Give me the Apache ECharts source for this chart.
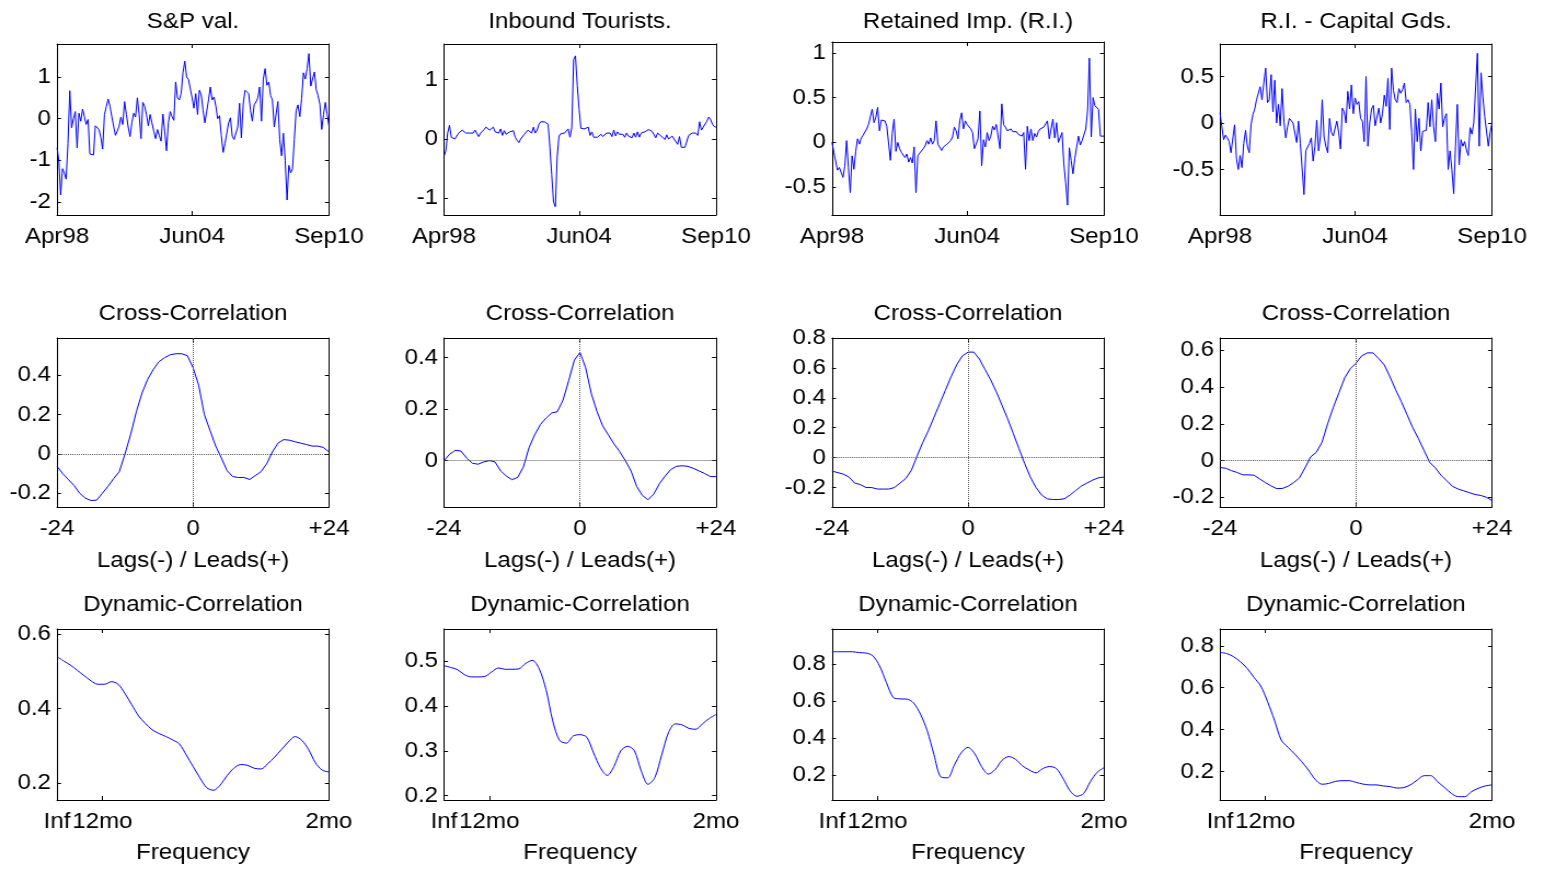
<!DOCTYPE html>
<html>
<head>
<meta charset="utf-8">
<title>Business cycle panels</title>
<script src="https://cdn.jsdelivr.net/npm/echarts@6/dist/echarts.min.js"></script>
<style>
  html, body { margin: 0; padding: 0; background: #fff; overflow: hidden; }
  /* the reference picture is stretched sideways, so the chart is drawn narrower and widened */
  #main { width: 1409px; height: 870px; transform: scaleX(1.095); transform-origin: 0 0; }
</style>
</head>
<body>
<div id="main"></div>
<script>
// ---- data ----
var seriesTitles = ['S&P val.', 'Inbound Tourists.', 'Retained Imp. (R.I.)', 'R.I. - Capital Gds.'];

// monthly, Apr98 .. Sep10 (150 months)
var spVal = [-0.7,-1.0,-1.83,-1.2,-1.3,-1.45,-0.6,0.67,-0.22,0.0,
  0.17,-0.7,0.13,-0.06,0.23,0.05,-0.14,-0.02,-0.85,-0.87,
  -0.87,-0.17,-0.18,-0.26,-0.45,-0.73,0.1,0.29,0.47,0.3,
  0.05,0.04,-0.4,-0.3,-0.18,0.04,-0.14,0.41,0.1,-0.2,
  -0.43,-0.1,0.13,0.04,0.5,0.1,-0.48,0.39,0.3,0.1,
  -0.17,0.1,-0.1,-0.3,-0.48,-0.26,-0.4,-0.54,0.11,-0.3,
  -0.77,-0.1,0.17,0.05,-0.04,0.88,0.5,0.45,0.6,1.1,
  1.38,1.0,0.94,0.9,0.5,0.25,0.6,0.1,0.68,0.57,
  0.2,-0.1,-0.14,0.45,0.76,0.45,0.52,0.3,0.0,0.07,
  -0.4,-0.81,-0.6,-0.57,-0.1,0.02,-0.42,-0.5,-0.48,-0.2,
  0.37,-0.46,0.35,0.68,0.67,0.6,0.2,-0.06,0.33,0.4,
  0.5,0.76,-0.06,0.95,1.2,0.8,0.88,0.55,0.45,-0.2,
  -0.18,0.41,-0.5,-0.89,-0.35,-1.0,-1.95,-1.12,-1.3,-1.2,
  -0.5,0.2,0.33,0.05,0.48,1.1,0.95,1.2,1.56,0.78,
  0.95,1.12,0.7,0.55,0.35,-0.26,0.1,0.39,0.1,-0.18];
var inboundTourists = [-0.29,-0.2,0.1,0.23,0.03,0.02,0.0,0.05,0.1,0.12,
  0.15,0.12,0.1,0.1,0.1,0.12,0.1,0.15,0.18,0.04,
  0.1,0.12,0.16,0.2,0.18,0.15,0.15,0.2,0.12,0.15,
  0.1,0.17,0.06,0.14,0.08,0.06,0.12,0.1,0.14,0.03,
  -0.02,-0.06,0.0,0.03,0.08,0.09,0.15,0.17,0.1,0.2,
  0.1,0.15,0.25,0.29,0.3,0.29,0.26,0.25,-0.14,-0.6,
  -1.06,-1.14,-0.3,0.05,0.09,0.09,0.1,0.09,0.17,0.03,
  0.2,1.34,1.4,0.9,0.5,0.18,0.17,0.17,0.14,0.2,
  0.06,0.12,0.03,0.06,0.03,0.02,0.08,0.04,0.02,0.1,
  0.1,0.1,0.04,0.15,0.05,0.12,0.08,0.05,0.08,0.03,
  0.1,0.05,0.08,0.02,0.1,0.03,0.12,0.03,0.1,0.08,
  0.12,0.15,0.16,0.16,0.13,0.13,0.02,0.1,0.1,0.05,
  0.08,-0.01,0.07,0.0,0.01,0.05,0.0,0.02,-0.09,0.04,
  -0.14,-0.14,-0.14,-0.12,0.06,0.07,0.1,0.08,0.1,0.06,
  0.29,0.15,0.2,0.22,0.3,0.37,0.33,0.25,0.21,0.2];
var retainedImp = [0.0,-0.11,-0.12,-0.31,-0.28,-0.27,-0.39,-0.27,0.02,-0.28,
  -0.56,-0.15,-0.3,-0.1,0.04,-0.02,0.05,0.08,0.1,0.15,
  0.2,0.2,0.37,0.22,0.28,0.39,0.13,0.25,0.25,0.24,
  0.18,0.2,-0.2,0.1,0.26,-0.1,0.0,-0.07,-0.11,-0.13,
  -0.17,-0.13,-0.22,-0.17,-0.23,-0.05,-0.56,-0.15,-0.12,-0.1,
  -0.07,-0.04,0.02,-0.02,0.05,-0.02,0.02,0.24,-0.02,0.0,
  -0.09,-0.05,-0.04,-0.02,-0.02,0.02,0.06,0.17,0.13,0.04,
  0.24,0.33,0.15,0.24,0.2,0.18,0.15,0.11,-0.07,-0.05,
  0.04,0.35,-0.26,0.03,-0.05,0.11,0.02,0.07,0.18,0.14,
  0.2,0.22,-0.07,0.43,0.2,0.17,0.13,0.13,0.15,0.12,
  0.1,0.12,0.09,0.11,0.07,0.11,-0.3,0.18,0.02,0.15,
  0.02,0.1,0.06,0.12,0.15,0.15,0.17,0.19,0.24,0.04,
  0.06,0.26,0.05,0.22,0.0,0.02,0.11,-0.24,-0.45,-0.7,
  -0.06,-0.2,-0.35,-0.18,-0.17,0.07,-0.03,0.02,0.02,0.15,
  0.35,0.94,0.06,0.5,0.41,0.39,0.37,0.07,0.07,0.07];
var riCapitalGds = [0.11,-0.04,-0.18,-0.13,-0.16,-0.2,-0.32,-0.3,-0.02,-0.38,
  -0.5,-0.35,-0.48,-0.22,-0.08,-0.25,-0.32,-0.02,0.09,0.15,
  0.25,0.27,0.39,0.25,0.43,0.59,0.22,0.25,0.52,0.12,
  0.46,0.0,0.2,-0.03,0.37,0.02,-0.16,-0.04,0.05,0.03,
  0.0,0.0,-0.21,0.02,-0.22,-0.23,-0.77,-0.3,-0.28,-0.22,
  -0.16,-0.41,-0.25,0.03,-0.3,-0.14,0.25,-0.15,-0.25,-0.32,
  0.05,-0.1,-0.14,-0.12,0.02,-0.1,-0.28,0.16,0.12,0.0,
  0.34,0.15,0.41,0.1,0.27,0.2,0.23,0.05,0.02,-0.2,
  0.5,-0.25,0.0,0.15,0.19,-0.03,-0.02,0.16,0.0,0.1,
  0.3,0.18,0.48,-0.07,0.59,0.35,0.25,0.22,0.37,0.32,
  0.36,0.43,0.22,0.25,0.2,-0.1,-0.5,0.15,-0.2,0.05,
  -0.3,-0.09,-0.1,-0.08,0.22,-0.04,0.25,-0.04,-0.2,0.32,
  0.15,0.43,-0.04,0.05,0.1,-0.5,-0.3,-0.5,-0.76,-0.25,
  0.2,-0.45,-0.18,-0.25,-0.2,-0.29,-0.35,-0.05,-0.12,0.0,
  0.02,0.75,-0.25,0.54,0.28,0.07,0.06,-0.25,-0.1,0.0];

// cross-correlation at lags -24 .. +24
var ccSP = [-0.063,-0.1,-0.13,-0.16,-0.2,-0.225,-0.237,-0.235,-0.2,-0.165,-0.125,-0.09,0.0,0.1,0.215,0.31,0.38,0.43,0.47,0.49,0.505,0.51,0.51,0.5,
  0.44,
  0.35,0.2,0.12,0.04,-0.02,-0.085,-0.115,-0.12,-0.12,-0.13,-0.11,-0.09,-0.05,0.01,0.055,0.073,0.07,0.062,0.055,0.048,0.04,0.04,0.033,0.01];
var ccTourists = [0.0,0.025,0.04,0.037,0.01,-0.01,-0.014,-0.005,0.0,-0.005,-0.04,-0.06,-0.074,-0.065,-0.025,0.05,0.1,0.14,0.165,0.185,0.19,0.235,0.31,0.39,
  0.42,
  0.36,0.26,0.19,0.135,0.1,0.065,0.035,0.0,-0.04,-0.1,-0.135,-0.152,-0.13,-0.09,-0.06,-0.035,-0.022,-0.02,-0.022,-0.03,-0.04,-0.05,-0.062,-0.062];
var ccRetained = [-0.09,-0.1,-0.11,-0.13,-0.17,-0.18,-0.2,-0.2,-0.21,-0.21,-0.21,-0.2,-0.17,-0.14,-0.085,0.01,0.1,0.18,0.27,0.36,0.45,0.54,0.62,0.68,
  0.705,
  0.706,0.66,0.59,0.52,0.44,0.35,0.26,0.16,0.06,-0.04,-0.13,-0.2,-0.25,-0.276,-0.28,-0.28,-0.275,-0.25,-0.22,-0.19,-0.17,-0.15,-0.135,-0.13];
var ccCapital = [-0.038,-0.042,-0.055,-0.065,-0.078,-0.078,-0.08,-0.1,-0.12,-0.138,-0.153,-0.152,-0.14,-0.12,-0.095,-0.04,0.02,0.045,0.1,0.2,0.29,0.37,0.45,0.5,
  0.53,
  0.57,0.586,0.586,0.555,0.52,0.455,0.385,0.32,0.25,0.18,0.12,0.055,-0.01,-0.04,-0.08,-0.11,-0.14,-0.155,-0.165,-0.175,-0.185,-0.19,-0.2,-0.218];

// dynamic correlation, 41 points from frequency 0 (Inf) to Nyquist (2mo)
var dcSP = [0.539,0.527,0.516,0.502,0.488,0.474,0.465,0.465,0.472,0.465,
  0.44,0.41,0.38,0.36,0.343,0.333,0.325,0.316,0.305,0.276,
  0.245,0.215,0.188,0.181,0.195,0.22,0.24,0.25,0.248,0.24,
  0.238,0.252,0.27,0.29,0.31,0.325,0.315,0.29,0.255,0.235,0.23];
var dcTourists = [0.49,0.486,0.481,0.47,0.465,0.465,0.466,0.476,0.485,0.482,
  0.482,0.483,0.495,0.502,0.483,0.437,0.366,0.323,0.317,0.333,
  0.336,0.33,0.295,0.262,0.245,0.265,0.3,0.31,0.3,0.255,
  0.225,0.24,0.29,0.34,0.36,0.358,0.35,0.348,0.36,0.372,0.381];
var dcRetained = [0.867,0.867,0.867,0.867,0.862,0.86,0.845,0.79,0.7,0.62,
  0.612,0.611,0.59,0.53,0.44,0.31,0.19,0.185,0.255,0.32,
  0.35,0.315,0.245,0.205,0.23,0.28,0.3,0.285,0.25,0.227,
  0.212,0.235,0.246,0.235,0.18,0.115,0.085,0.1,0.165,0.215,0.24];
var dcCapital = [0.768,0.763,0.748,0.724,0.692,0.649,0.608,0.533,0.446,0.351,
  0.316,0.284,0.248,0.208,0.163,0.14,0.144,0.154,0.157,0.157,
  0.149,0.141,0.137,0.137,0.132,0.129,0.122,0.124,0.137,0.16,
  0.181,0.181,0.152,0.125,0.097,0.081,0.081,0.105,0.121,0.132,0.137];

// tick labels
var dateTicks = [0, 74, 149];
var dateTickLabels = ['Apr98', 'Jun04', 'Sep10'];
var lagTicks = [-24, 0, 24];
var lagTickLabels = ['-24', '0', '+24'];
var freqTicks = [0, 1 / 6, 1];
var freqTickLabels = ['Inf', '12mo', '2mo'];

// y axis limits and ticks, one per panel (row by row)
var yLimits = [[-2.31, 1.79], [-1.28, 1.6], [-0.81, 1.12], [-0.99, 0.85],
  [-0.27, 0.59], [-0.18, 0.476], [-0.33, 0.8], [-0.253, 0.667],
  [0.155, 0.613], [0.19, 0.572], [0.065, 0.99], [0.065, 0.88]];
var yTicks = [[-2, -1, 0, 1], [-1, 0, 1], [-0.5, 0, 0.5, 1], [-0.5, 0, 0.5],
  [-0.2, 0, 0.2, 0.4], [0, 0.2, 0.4], [-0.2, 0, 0.2, 0.4, 0.6, 0.8], [-0.2, 0, 0.2, 0.4, 0.6],
  [0.2, 0.4, 0.6], [0.2, 0.3, 0.4, 0.5], [0.2, 0.4, 0.6, 0.8], [0.2, 0.4, 0.6, 0.8]];

function buildChart() {
  // layout in reference pixels
  var S = 1.095;
  function px(x) { return x / S; }
  var colLeft = [57, 444, 832, 1220];
  var plotWidth = 272;
  var rowTop = [44, 338, 629];
  var rowBottom = [215, 507, 800];
  var titleY = [21.5, 313.5, 605];
  var nameY = [null, 561, 853];
  var FONT = '"Liberation Sans", Arial, Helvetica, sans-serif';
  var FS = 22;
  var blk = '#000';

  var topRow = [spVal, inboundTourists, retainedImp, riCapitalGds];
  var midRow = [ccSP, ccTourists, ccRetained, ccCapital];
  var lowRow = [dcSP, dcTourists, dcRetained, dcCapital];

  function pairs(xs, ys) {
    var out = [];
    for (var i = 0; i < ys.length; i++) out.push([xs[i], ys[i]]);
    return out;
  }
  var monthIdx = [];
  for (var m = 0; m < spVal.length; m++) monthIdx.push(m);
  var lags = [];
  for (var l = -24; l <= 24; l++) lags.push(l);
  var freqPos = [];
  for (var f = 0; f < dcSP.length; f++) freqPos.push(f / (dcSP.length - 1));

  function labelFor(ticks, labels) {
    return function (v) {
      for (var i = 0; i < ticks.length; i++) {
        if (Math.abs(ticks[i] - v) < 1e-6) return labels[i];
      }
      return '';
    };
  }

  var grids = [], xAxes = [], yAxes = [], series = [], texts = [];

  for (var r = 0; r < 3; r++) {
    for (var c = 0; c < 4; c++) {
      var p = r * 4 + c;
      var gTop = (p === 2) ? 42 : rowTop[r];
      grids.push({ left: px(colLeft[c]), top: gTop, width: px(plotWidth), height: rowBottom[r] - gTop });

      var xMin, xMax, xt, xl, data;
      if (r === 0) { xMin = 0; xMax = 149; xt = dateTicks; xl = dateTickLabels; data = pairs(monthIdx, topRow[c]); }
      else if (r === 1) { xMin = -24; xMax = 24; xt = lagTicks; xl = lagTickLabels; data = pairs(lags, midRow[c]); }
      else { xMin = 0; xMax = 1; xt = freqTicks; xl = freqTickLabels; data = pairs(freqPos, lowRow[c]); }

      ['bottom', 'top'].forEach(function (pos) {
        xAxes.push({
          gridIndex: p, type: 'value', position: pos, min: xMin, max: xMax,
          axisLine: { onZero: false, lineStyle: { color: blk, width: 1 } },
          axisTick: { inside: true, length: 4, customValues: xt.slice(), lineStyle: { color: blk } },
          axisLabel: {
            show: pos === 'bottom', customValues: xt.slice(), formatter: labelFor(xt, xl),
            color: blk, fontFamily: FONT, fontSize: FS, margin: 11,
            showMinLabel: true, showMaxLabel: true
          },
          splitLine: { show: false }
        });
      });
      ['left', 'right'].forEach(function (pos) {
        yAxes.push({
          gridIndex: p, type: 'value', position: pos, min: yLimits[p][0], max: yLimits[p][1],
          axisLine: { onZero: false, lineStyle: { color: blk, width: 1 } },
          axisTick: { inside: true, length: px(4), customValues: yTicks[p].slice(), lineStyle: { color: blk } },
          axisLabel: {
            show: pos === 'left', customValues: yTicks[p].slice(),
            color: blk, fontFamily: FONT, fontSize: FS, margin: px(6),
            showMinLabel: true, showMaxLabel: true
          },
          splitLine: { show: false }
        });
      });

      var s = {
        type: 'line', xAxisIndex: 2 * p, yAxisIndex: 2 * p, data: data,
        showSymbol: false, silent: true, z: 3,
        lineStyle: { color: '#0000ff', width: 1 }
      };
      if (r === 2) s.smooth = 0.3;
      if (r === 1) {
        s.markLine = {
          silent: true, symbol: ['none', 'none'], label: { show: false },
          lineStyle: { color: '#555', type: 'dotted', width: 1 },
          data: [{ yAxis: 0 }, { xAxis: 0 }]
        };
      }
      series.push(s);

      var cx = px(colLeft[c] + plotWidth / 2);
      var title = r === 0 ? seriesTitles[c] : (r === 1 ? 'Cross-Correlation' : 'Dynamic-Correlation');
      texts.push({ type: 'text', x: cx, y: titleY[r],
        style: { text: title, font: FS + 'px ' + FONT, fill: blk, textAlign: 'center', textVerticalAlign: 'middle' } });
      if (r > 0) {
        texts.push({ type: 'text', x: cx, y: nameY[r],
          style: { text: r === 1 ? 'Lags(-) / Leads(+)' : 'Frequency', font: FS + 'px ' + FONT, fill: blk, textAlign: 'center', textVerticalAlign: 'middle' } });
      }
    }
  }

  var chart = echarts.init(document.getElementById('main'));
  chart.setOption({
    animation: false,
    backgroundColor: '#fff',
    grid: grids,
    xAxis: xAxes,
    yAxis: yAxes,
    series: series,
    graphic: { elements: texts }
  });
}
buildChart();
</script>
</body>
</html>
